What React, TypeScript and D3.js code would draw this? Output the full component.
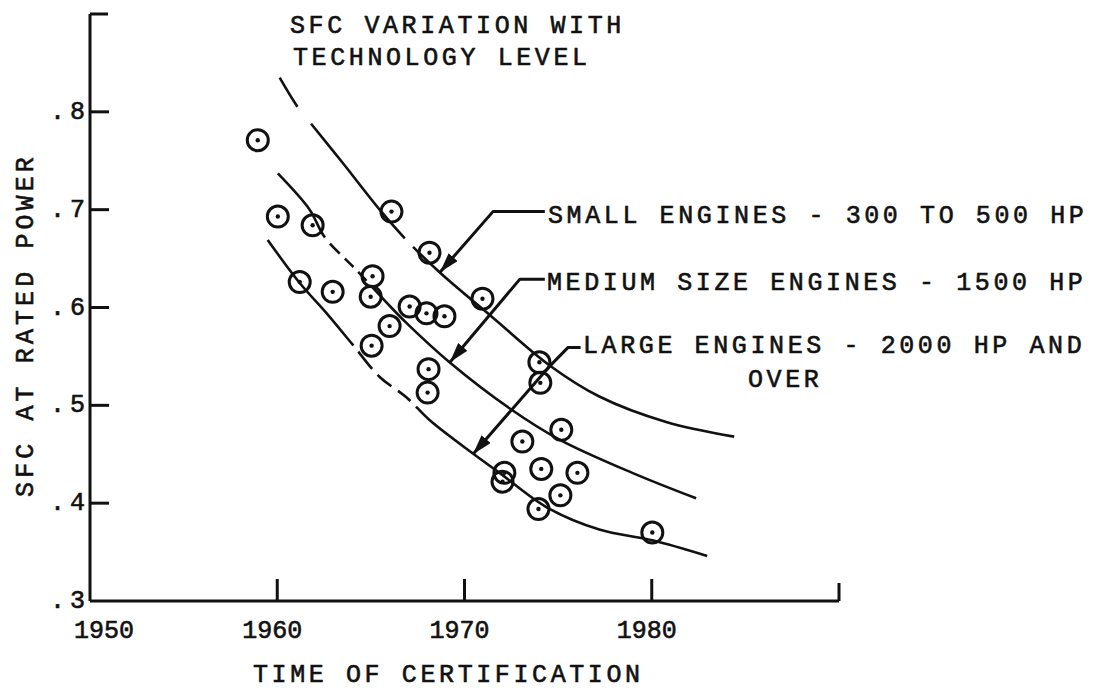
import React from 'react';
import * as d3 from 'd3';

// ---- Data ----
const xTickYears = [1950, 1960, 1970, 1980];
const xEndTickYear = 1990;
const yTickValues = [0.3, 0.4, 0.5, 0.6, 0.7, 0.8];
const yTickLabels = ['.3', '.4', '.5', '.6', '.7', '.8'];
const yAxisTop = 0.9;

// Certified engines (time of certification, SFC at rated power)
const pointYears = [
  1958.96, 1960.03, 1961.89, 1961.2, 1962.96, 1966.1, 1968.13, 1965.09, 1964.99, 1967.07,
  1967.97, 1968.93, 1966.0, 1965.04, 1970.96, 1968.08, 1968.03, 1974.0, 1974.05, 1975.17,
  1973.09, 1972.13, 1972.03, 1974.1, 1976.03, 1975.12, 1973.95, 1980.03,
];
const pointSfc = [
  0.771, 0.693, 0.684, 0.626, 0.616, 0.698, 0.656, 0.632, 0.611, 0.601,
  0.594, 0.591, 0.581, 0.561, 0.609, 0.537, 0.513, 0.544, 0.523, 0.475,
  0.463, 0.431, 0.422, 0.435, 0.431, 0.408, 0.394, 0.37,
];

// Trend curves
const smallYears = [1960.13, 1961.09, 1961.84, 1963.49, 1965.47, 1966.8, 1968.67, 1971.49, 1974.53, 1977.2, 1980.77, 1984.4];
const smallSfc = [0.835, 0.805, 0.787, 0.748, 0.7, 0.671, 0.636, 0.59, 0.541, 0.509, 0.483, 0.468];

const mediumYears = [1960.03, 1961.73, 1962.53, 1964.24, 1965.84, 1966.91, 1969.2, 1972.4, 1975.07, 1978.96, 1982.37];
const mediumSfc = [0.737, 0.7, 0.672, 0.638, 0.605, 0.584, 0.544, 0.497, 0.465, 0.431, 0.405];

const largeYears = [1959.49, 1961.2, 1962.64, 1964.03, 1965.47, 1966.91, 1968.13, 1970.43, 1971.87, 1974.37, 1977.2, 1980.03, 1982.96];
const largeSfc = [0.669, 0.625, 0.594, 0.562, 0.529, 0.508, 0.485, 0.451, 0.431, 0.396, 0.373, 0.362, 0.346];

// Leader lines for the labels (year, sfc)
const smallLeaderYears = [1974.29, 1971.52, 1968.69];
const smallLeaderSfc = [0.698, 0.698, 0.636];
const mediumLeaderYears = [1974.29, 1972.96, 1969.22];
const mediumLeaderSfc = [0.629, 0.629, 0.544];
const largeLeaderYears = [1976.2, 1975.52, 1974.45, 1970.45];
const largeLeaderSfc = [0.559, 0.559, 0.538, 0.45];

const titleLines = ['SFC VARIATION WITH', 'TECHNOLOGY LEVEL'];
const labelSmall = 'SMALL ENGINES - 300 TO 500 HP';
const labelMedium = 'MEDIUM SIZE ENGINES - 1500 HP';
const labelLarge = 'LARGE ENGINES - 2000 HP AND';
const labelLarge2 = 'OVER';
const xTitle = 'TIME OF CERTIFICATION';
const yTitle = 'SFC AT RATED POWER';

const FONT = '"Liberation Mono", "DejaVu Sans Mono", monospace';

export default function App() {
  const x = d3.scaleLinear().domain([1950, 1990]).range([90, 839]);
  const y = d3.scaleLinear().domain([0.3, 0.9]).range([601, 14]);

  const line = d3
    .line<[number, number]>()
    .x((d) => x(d[0]))
    .y((d) => y(d[1]))
    .curve(d3.curveCatmullRom.alpha(0.5));
  const poly = d3
    .line<[number, number]>()
    .x((d) => x(d[0]))
    .y((d) => y(d[1]));

  const zip = (a: number[], b: number[]) => a.map((v, i) => [v, b[i]] as [number, number]);

  const curves = [
    { d: line(zip(smallYears, smallSfc)), dash: '34 22 148 12 2000' },
    { d: line(zip(mediumYears, mediumSfc)), dash: '80 8 14 7 12 7 12 8 2000' },
    { d: line(zip(largeYears, largeSfc)), dash: '136 8 22 8 18 8 16 8 2000' },
  ];

  const leaders = [
    zip(smallLeaderYears, smallLeaderSfc),
    zip(mediumLeaderYears, mediumLeaderSfc),
    zip(largeLeaderYears, largeLeaderSfc),
  ];

  const x0 = x(1950);
  const yBase = y(0.3);
  const textStyle = {
    fontFamily: FONT,
    fontSize: 25,
    letterSpacing: 3.6,
    fill: '#111',
    stroke: '#111',
    strokeWidth: 0.6,
  } as const;
  const numStyle = {
    fontFamily: FONT,
    fontSize: 25,
    fill: '#111',
    stroke: '#111',
    strokeWidth: 0.6,
  } as const;

  return (
    <svg
      width={1094}
      height={693}
      style={{ position: 'absolute', left: 0, top: 0, background: '#fff' }}
    >
      <defs>
        <marker
          id="arrow"
          viewBox="0 0 20 12"
          refX="20"
          refY="6"
          markerWidth="20"
          markerHeight="12"
          markerUnits="userSpaceOnUse"
          orient="auto"
        >
          <path d="M0,0 L20,6 L0,12 Z" fill="#111" />
        </marker>
      </defs>

      {/* Y axis */}
      <line x1={x0} y1={y(yAxisTop)} x2={x0} y2={yBase} stroke="#111" strokeWidth={3} />
      <line x1={x0} y1={y(yAxisTop)} x2={x0 + 18} y2={y(yAxisTop)} stroke="#111" strokeWidth={3} />
      {yTickValues.map((v, i) => (
        <g key={'yt' + i}>
          {i > 0 && (
            <line x1={x0} x2={x0 + 19} y1={y(v)} y2={y(v)} stroke="#111" strokeWidth={3} />
          )}
          <text x={50} y={y(v) + 7} style={{ ...numStyle, letterSpacing: 5 }}>
            {yTickLabels[i]}
          </text>
        </g>
      ))}

      {/* X axis */}
      <line x1={x0} y1={yBase} x2={x(xEndTickYear)} y2={yBase} stroke="#111" strokeWidth={3} />
      {xTickYears.map((t) => (
        <g key={'xt' + t}>
          {t > 1950 && (
            <line x1={x(t)} x2={x(t)} y1={yBase} y2={yBase - 22} stroke="#111" strokeWidth={3} />
          )}
          <text
            x={x(t) + (t === 1950 ? 14 : -5)}
            y={yBase + 37}
            textAnchor="middle"
            style={numStyle}
          >
            {t}
          </text>
        </g>
      ))}
      <line
        x1={x(xEndTickYear)}
        x2={x(xEndTickYear)}
        y1={yBase}
        y2={yBase - 18}
        stroke="#111"
        strokeWidth={3}
      />

      {/* Axis titles */}
      <text x={253} y={682} style={textStyle}>
        {xTitle}
      </text>
      <text
        transform="translate(33,325) rotate(-90)"
        textAnchor="middle"
        style={{ ...textStyle, letterSpacing: 4.1 }}
      >
        {yTitle}
      </text>

      {/* Title */}
      <text x={290} y={33} style={textStyle}>
        {titleLines[0]}
      </text>
      <text x={293} y={65} style={textStyle}>
        {titleLines[1]}
      </text>

      {/* Curves */}
      {curves.map((c, i) => (
        <path
          key={'c' + i}
          d={c.d || ''}
          fill="none"
          stroke="#111"
          strokeWidth={2.6}
          strokeDasharray={c.dash}
        />
      ))}

      {/* Data points */}
      {pointYears.map((yr, i) => (
        <g key={'p' + i}>
          <circle
            cx={x(yr)}
            cy={y(pointSfc[i])}
            r={10.5}
            fill="none"
            stroke="#111"
            strokeWidth={3}
          />
          <circle cx={x(yr)} cy={y(pointSfc[i])} r={2.2} fill="#111" />
        </g>
      ))}

      {/* Leader arrows */}
      {leaders.map((pts, i) => (
        <path
          key={'l' + i}
          d={poly(pts) || ''}
          fill="none"
          stroke="#111"
          strokeWidth={3}
          strokeLinejoin="round"
          markerEnd="url(#arrow)"
        />
      ))}

      {/* Labels */}
      <text x={548} y={223} style={textStyle}>
        {labelSmall}
      </text>
      <text x={547} y={290} style={textStyle}>
        {labelMedium}
      </text>
      <text x={583} y={353} style={textStyle}>
        {labelLarge}
      </text>
      <text x={748} y={387} style={textStyle}>
        {labelLarge2}
      </text>
    </svg>
  );
}
